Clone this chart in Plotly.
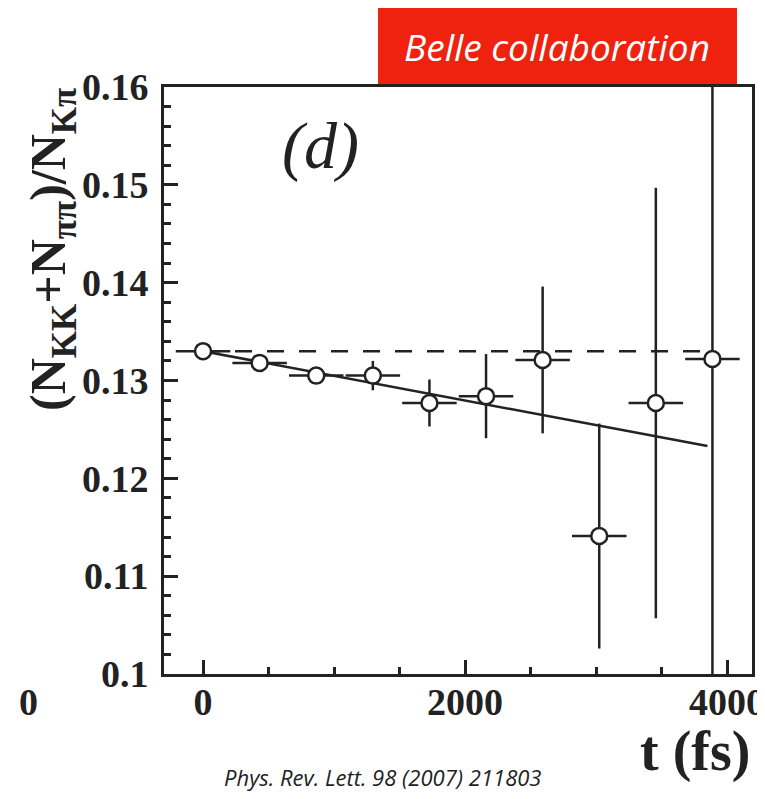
import plotly.graph_objects as go

# Data
t_fs = [0, 432, 864, 1296, 1728, 2160, 2592, 3024, 3456, 3888]
t_err = [208, 208, 208, 208, 208, 208, 208, 208, 208, 208]
ratio = [0.1330, 0.1318, 0.1305, 0.1305, 0.1277, 0.1284, 0.1321, 0.1141, 0.1277, 0.1322]
ratio_err = [0.0003, 0.0005, 0.0008, 0.0015, 0.0024, 0.0043, 0.0075, 0.0115, 0.0220, 0.0500]

fit_x = [0, 3850]
fit_y = [0.1330, 0.1233]
const_x = [0, 3890]
const_y = [0.1330, 0.1330]

x_tickvals = [0, 2000, 4000]
x_ticktext = ["0", "2000", "4000"]
y_tickvals = [0.10, 0.11, 0.12, 0.13, 0.14, 0.15, 0.16]
y_ticktext = ["0.1", "0.11", "0.12", "0.13", "0.14", "0.15", "0.16"]

# page body has an 8px default margin; lay out in reference pixel coords
OFF = 8
W, H = 765 - OFF, 799 - OFF
L, R, T, B = 164 - OFF, 13, 87 - OFF, 125
pw, ph = W - L - R, H - T - B

def px(x):
    return (x - OFF - L) / pw

def py(y):
    return (H - B - (y - OFF)) / ph

fig = go.Figure()
fig.add_trace(go.Scatter(x=const_x, y=const_y, mode="lines",
                         line=dict(color="#222222", width=2.5, dash="17px,15px"),
                         showlegend=False, hoverinfo="skip"))
fig.add_trace(go.Scatter(x=fit_x, y=fit_y, mode="lines",
                         line=dict(color="#222222", width=2.5),
                         showlegend=False, hoverinfo="skip"))
fig.add_trace(go.Scatter(
    x=t_fs, y=ratio, mode="markers",
    marker=dict(symbol="circle", size=16, color="white",
                line=dict(color="#222222", width=2.5)),
    error_y=dict(type="data", array=ratio_err, visible=True, color="#222222",
                 thickness=2.5, width=0),
    error_x=dict(type="data", array=t_err, visible=True, color="#222222",
                 thickness=2.5, width=0),
    showlegend=False))

serif_bold = dict(family="Liberation Serif", size=38, color="#222222", weight="bold")

fig.update_xaxes(range=[-298, 4190], tickvals=x_tickvals, ticktext=x_ticktext,
                 ticks="inside", ticklen=14, tickwidth=2.5, tickcolor="#222222",
                 minor=dict(dtick=500, tick0=0, ticks="inside", ticklen=7,
                            tickwidth=2.5, tickcolor="#222222"),
                 showline=True, linecolor="#222222", linewidth=3, mirror=True,
                 showgrid=False, zeroline=False, tickfont=serif_bold,
                 ticklabelstandoff=-8, ticklabeloverflow="allow", automargin=False)
fig.update_yaxes(range=[0.1, 0.16], tickvals=y_tickvals, ticktext=y_ticktext,
                 ticks="inside", ticklen=14, tickwidth=2.5, tickcolor="#222222",
                 minor=dict(dtick=0.002, tick0=0.1, ticks="inside", ticklen=7,
                            tickwidth=2.5, tickcolor="#222222"),
                 showline=True, linecolor="#222222", linewidth=3, mirror=True,
                 showgrid=False, zeroline=False, tickfont=serif_bold,
                 ticklabelstandoff=5, ticklabeloverflow="allow", automargin=False)

annotations = [
    dict(text="(N<sub>KK</sub>+N<sub>ππ</sub>)/N<sub>Kπ</sub>", textangle=-90,
         x=px(52), y=py(250), xref="paper", yref="paper", showarrow=False,
         xanchor="center", yanchor="middle",
         font=dict(family="Liberation Serif", size=50, color="#222222", weight="bold")),
    dict(text="t (fs)", x=px(752), y=py(752), xref="paper", yref="paper",
         showarrow=False, xanchor="right", yanchor="middle",
         font=dict(family="Liberation Serif", size=56, color="#222222", weight="bold")),
    dict(text="(d)", x=px(320), y=py(146), xref="paper", yref="paper",
         showarrow=False, xanchor="center", yanchor="middle",
         font=dict(family="Liberation Serif", size=66, color="#222222", style="italic")),
    dict(text="Belle collaboration", x=px(557), y=py(46), xref="paper", yref="paper",
         showarrow=False, xanchor="center", yanchor="middle",
         font=dict(family="Open Sans", size=37, color="white", style="italic")),
    dict(text="Phys. Rev. Lett. 98 (2007) 211803", x=px(383), y=py(777),
         xref="paper", yref="paper", showarrow=False, xanchor="center", yanchor="middle",
         font=dict(family="Open Sans", size=22, color="#222222", style="italic")),
    dict(text="0", x=px(40), y=py(702), xref="paper", yref="paper",
         showarrow=False, xanchor="right", yanchor="middle",
         font=serif_bold),
]

shapes = [
    dict(type="rect", xref="paper", yref="paper", x0=px(378), x1=px(737),
         y0=py(86), y1=py(5), fillcolor="#EE220F", line=dict(width=0), layer="below"),
]

fig.update_layout(width=W, height=H, margin=dict(l=L, r=R, t=T, b=B, autoexpand=False),
                  paper_bgcolor="white", plot_bgcolor="white",
                  annotations=annotations, shapes=shapes)

fig.write_html("out.html")
